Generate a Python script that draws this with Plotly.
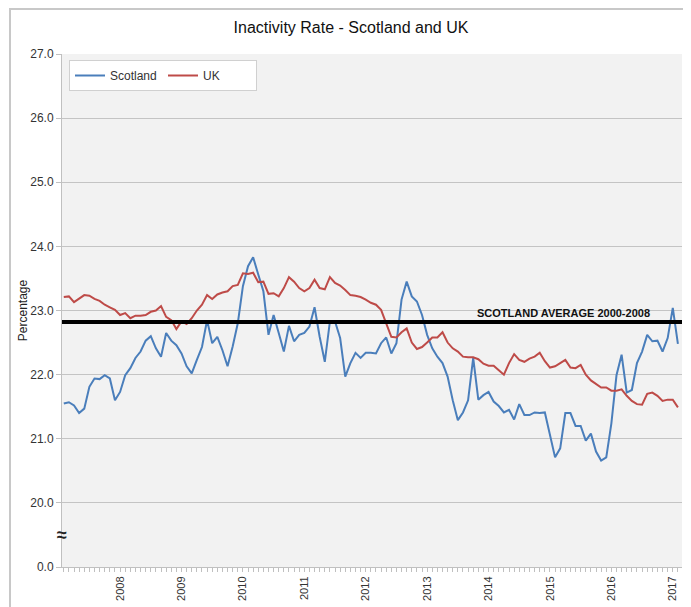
import plotly.graph_objects as go

months = list(range(121))

scotland = [
    21.55, 21.57, 21.52, 21.40, 21.47, 21.81, 21.94, 21.93, 21.99, 21.94,
    21.60, 21.73, 21.99, 22.10, 22.26, 22.36, 22.53, 22.60, 22.41, 22.28,
    22.65, 22.53, 22.46, 22.33, 22.13, 22.02, 22.23, 22.43, 22.85, 22.49,
    22.59, 22.38, 22.13, 22.44, 22.80, 23.38, 23.69, 23.83, 23.56, 23.30,
    22.62, 22.93, 22.65, 22.36, 22.76, 22.52, 22.62, 22.65, 22.75, 23.05,
    22.59, 22.20, 22.83, 22.83, 22.57, 21.97, 22.18, 22.34, 22.26, 22.34,
    22.34, 22.33, 22.49, 22.58, 22.33, 22.49, 23.17, 23.45, 23.22, 23.14,
    22.93, 22.62, 22.41, 22.28, 22.18, 21.97, 21.60, 21.29, 21.41, 21.60,
    22.26, 21.61, 21.68, 21.73, 21.58, 21.51, 21.41, 21.45, 21.30, 21.54,
    21.37, 21.37, 21.41, 21.40, 21.41, 21.08, 20.71, 20.85, 21.40, 21.40,
    21.20, 21.20, 20.97, 21.08, 20.80, 20.66, 20.71, 21.24, 21.99, 22.31,
    21.72, 21.76, 22.18, 22.36, 22.62, 22.52, 22.53, 22.36, 22.57, 23.04,
    22.48,
]

uk = [
    23.21, 23.22, 23.13, 23.19, 23.24, 23.23, 23.18, 23.15, 23.09, 23.05,
    23.01, 22.93, 22.96, 22.88, 22.92, 22.92, 22.93, 22.98, 23.00, 23.07,
    22.90, 22.85, 22.71, 22.83, 22.79, 22.88, 23.00, 23.09, 23.24, 23.18,
    23.25, 23.28, 23.30, 23.38, 23.40, 23.58, 23.57, 23.59, 23.44, 23.45,
    23.26, 23.27, 23.22, 23.35, 23.52, 23.45, 23.35, 23.30, 23.35, 23.48,
    23.35, 23.33, 23.52, 23.43, 23.39, 23.32, 23.24, 23.23, 23.21, 23.17,
    23.12, 23.09, 23.01, 22.80, 22.59, 22.58, 22.66, 22.72, 22.50, 22.40,
    22.43, 22.50, 22.58, 22.58, 22.66, 22.50, 22.41, 22.36, 22.28, 22.27,
    22.27, 22.24, 22.17, 22.14, 22.14, 22.07, 22.00, 22.18, 22.32, 22.23,
    22.20, 22.25, 22.28, 22.34, 22.21, 22.11, 22.13, 22.18, 22.23, 22.11,
    22.10, 22.15, 22.00, 21.91, 21.86, 21.80, 21.80, 21.75, 21.75, 21.77,
    21.67, 21.59, 21.54, 21.53, 21.70, 21.72, 21.67, 21.59, 21.61, 21.61,
    21.49,
]

scotland_average = 22.82
average_label = "SCOTLAND AVERAGE 2000-2008"

year_tick_positions = [11, 23, 35, 47, 59, 71, 83, 95, 107, 119]
year_labels = ["2008", "2009", "2010", "2011", "2012", "2013", "2014", "2015", "2016", "2017"]

y_tick_values = [19, 20, 21, 22, 23, 24, 25, 26, 27]
y_tick_labels = ["0.0", "20.0", "21.0", "22.0", "23.0", "24.0", "25.0", "26.0", "27.0"]

SANS = "Liberation Sans, Arial, sans-serif"

# The page body adds an 8px margin, so the figure is sized to fit within it.
W, H = 683, 599
ML, MR, MT, MB = 54, 9, 46, 40
PW, PH = W - ML - MR, H - MT - MB

fig = go.Figure()
fig.add_trace(go.Scatter(x=months, y=scotland, mode="lines", name="Scotland",
                         line=dict(color="#4a7ebb", width=2)))
fig.add_trace(go.Scatter(x=months, y=uk, mode="lines", name="UK",
                         line=dict(color="#be4b48", width=2)))

fig.add_hline(y=scotland_average, line=dict(color="black", width=4), layer="above")
fig.add_annotation(x=97.7, y=scotland_average, text="<b>" + average_label + "</b>",
                   showarrow=False, yanchor="bottom", yshift=1,
                   font=dict(family=SANS, size=11, color="#111"))

# axis break marker
fig.add_annotation(x=0, xref="paper", y=19.5, yref="y", text="<b>≈</b>", showarrow=False,
                   xanchor="center", yanchor="middle",
                   font=dict(family=SANS, size=18, color="#222"))

# outer chart frame
fig.add_shape(type="rect", xref="paper", yref="paper",
              x0=-(ML - 2) / PW, x1=1 + 6 / PW, y0=-(MB + 20) / PH, y1=1 + (MT - 1) / PH,
              line=dict(color="#c8c8c8", width=2), fillcolor="rgba(0,0,0,0)", layer="below")

fig.update_layout(
    width=W, height=H,
    margin=dict(l=ML, r=MR, t=MT, b=MB, autoexpand=False),
    paper_bgcolor="white",
    plot_bgcolor="#f2f2f2",
    title=dict(text="Inactivity Rate - Scotland and UK", x=(ML + 289) / W, xanchor="center",
               y=1 - 19 / H, yanchor="middle",
               font=dict(family=SANS, size=16, color="#111")),
    showlegend=True,
    legend=dict(orientation="h", x=7 / PW, y=1 - 6 / PH, xanchor="left", yanchor="top",
                bgcolor="white", bordercolor="#d0d0d0", borderwidth=1,
                itemwidth=30, entrywidth=48,
                font=dict(family=SANS, size=12, color="#333")),
    xaxis=dict(range=[-0.35, 120.8], tickmode="array", tickvals=year_tick_positions,
               ticktext=year_labels, tickangle=-90, showgrid=False, zeroline=False,
               showline=True, linecolor="#c0c0c0", linewidth=1, automargin=False,
               ticks="outside", ticklen=4, tickcolor="#c0c0c0",
               minor=dict(tickmode="linear", tick0=0, dtick=1, ticks="outside",
                          ticklen=4, tickcolor="#c0c0c0"),
               tickfont=dict(family=SANS, size=11, color="#333")),
    yaxis=dict(range=[19, 27], tickmode="array", tickvals=y_tick_values,
               ticktext=y_tick_labels, showgrid=True, gridcolor="#c4c4c4", gridwidth=1,
               zeroline=False, showline=True, linecolor="#c0c0c0", linewidth=1,
               automargin=False,
               ticks="outside", ticklen=5, tickcolor="#c0c0c0",
               title=dict(text="Percentage", standoff=0,
                          font=dict(family=SANS, size=12, color="#222")),
               tickfont=dict(family=SANS, size=12, color="#333")),
)

fig.write_html("out.html")
